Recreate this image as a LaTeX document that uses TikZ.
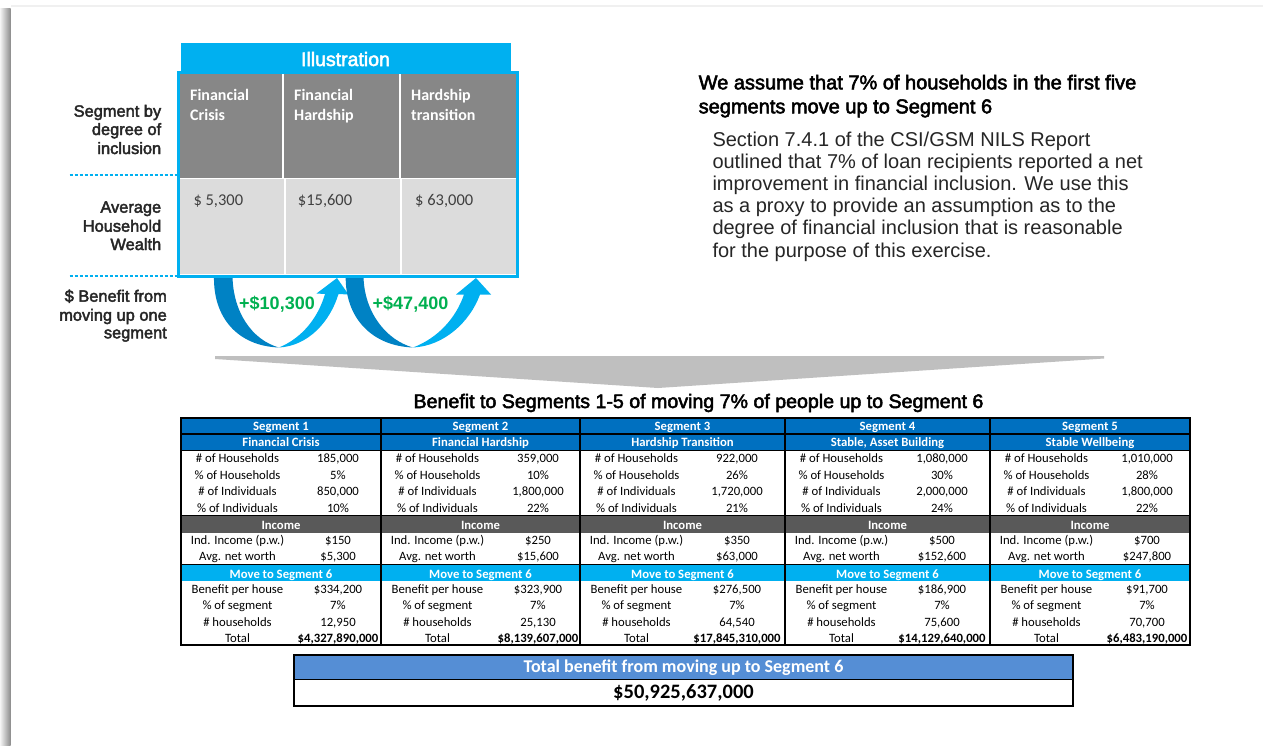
\documentclass[tikz,border=0pt]{standalone}
\usepackage{fontspec}
\setmainfont{Carlito}
\newfontfamily\ar{Liberation Sans}
\newfontfamily\arm[FakeBold=2.6]{Liberation Sans}
\newcommand\fsz[1]{\fontsize{#1}{#1}\selectfont}
\definecolor{cyanb}{HTML}{00B0F0}
\definecolor{darkb}{HTML}{0082C4}
\definecolor{segb}{HTML}{0070C0}
\definecolor{incg}{HTML}{595959}
\definecolor{illg}{HTML}{878787}
\definecolor{illl}{HTML}{DCDCDC}
\definecolor{totb}{HTML}{558ED5}
\definecolor{gain}{HTML}{00B050}
\definecolor{funnel}{HTML}{BFBFBF}
\definecolor{txt}{HTML}{262626}
\newcommand\segA[9]{%
  \fill[segb] (#1,418) rectangle (#2,450);
  \node[hdr] (#3h1) at ({(#1+#2)/2},430) {#4};
  \node[hdr] (#3h2) at ({(#1+#2)/2},446.3) {#5};
  \node[cell] (#3l1) at ({#1+56.5},462.7) {\# of Households};
  \node[cell] (#3v1) at ({#1+157},462.7) {#6};
  \node[cell] (#3l2) at ({#1+56.5},479) {\% of Households};
  \node[cell] (#3v2) at ({#1+157},479) {#7};
  \node[cell] (#3l3) at ({#1+56.5},495.5) {\# of Individuals};
  \node[cell] (#3v3) at ({#1+157},495.5) {#8};
  \node[cell] (#3l4) at ({#1+56.5},512) {\% of Individuals};
  \node[cell] (#3v4) at ({#1+157},512) {#9};
}
\newcommand\segB[9]{%
  \fill[incg] (#1,516) rectangle (#2,532.5);
  \node[hdr] (#3h3) at ({(#1+#2)/2},529) {Income};
  \node[cell] (#3l5) at ({#1+56.5},544.5) {Ind. Income (p.w.)};
  \node[cell] (#3v5) at ({#1+157},544.5) {#4};
  \node[cell] (#3l6) at ({#1+56.5},560) {Avg. net worth};
  \node[cell] (#3v6) at ({#1+157},560) {#5};
  \fill[cyanb] (#1,565) rectangle (#2,581);
  \node[hdr] (#3h4) at ({(#1+#2)/2},578) {Move to Segment 6};
  \node[cell] (#3l7) at ({#1+56.5},593.5) {Benefit per house};
  \node[cell] (#3v7) at ({#1+157},593.5) {#6};
  \node[cell] (#3l8) at ({#1+56.5},609.5) {\% of segment};
  \node[cell] (#3v8) at ({#1+157},609.5) {#7};
  \node[cell] (#3l9) at ({#1+56.5},626) {\# households};
  \node[cell] (#3v9) at ({#1+157},626) {#8};
  \node[cell] (#3l10) at ({#1+56.5},642) {Total};
  \node[cell] (#3v10) at ({#1+157},642) {\textbf{#9}};
}
\begin{document}
\begin{tikzpicture}[x=1pt,y=-1pt,
  cell/.style={font=\fsz{12.7}, text=black, anchor=base, inner sep=0pt},
  hdr/.style={font=\bfseries\fsz{12.7}, text=white, anchor=base, inner sep=0pt},
  side/.style={font=\arm\fsz{16.4}, text=txt, anchor=base east, inner sep=0pt},
  body/.style={font=\ar\fsz{20}, text=txt, anchor=base west, inner sep=0pt},
  head/.style={font=\arm\fsz{20}, text=black, anchor=base west, inner sep=0pt},
  illtop/.style={font=\bfseries\fsz{16}, text=white, anchor=base west, inner sep=0pt},
  illval/.style={font=\fsz{16.5}, text=black!75, anchor=base west, inner sep=0pt},
  gainlbl/.style={font=\ar\bfseries\fsz{18}, text=gain, anchor=base, inner sep=0pt},
  dashline/.style={draw=cyanb, dash pattern=on 3pt off 2pt, line width=1.2pt}]
\useasboundingbox (0,0) rectangle (1263,745);
\fill[white] (0,0) rectangle (1263,745);
% page shadow
\shade[left color=black!4, right color=black!45] (0,8) rectangle (10.5,745);
\fill[black!6] (10.5,4.5) rectangle (1263,6.5);

% side labels
\node[side] (s1a) at (161.4,116.7) {Segment by};
\node[side] (s1b) at (161.4,135) {degree of};
\node[side] (s1c) at (161.4,154) {inclusion};
\node[side] (s2a) at (161.4,212.7) {Average};
\node[side] (s2b) at (161.4,231.7) {Household};
\node[side] (s2c) at (161.4,250) {Wealth};
\node[side] (s3a) at (167,301.7) {\$ Benefit from};
\node[side] (s3b) at (167,320.7) {moving up one};
\node[side] (s3c) at (167,338.3) {segment};
\draw[dashline] (69.5,175) -- (177,175);
\draw[dashline] (69.5,276) -- (177,276);

% arrows
\fill[darkb] (214,276) .. controls (213,318) and (238,346) .. (279,347.5) .. controls (252,340) and (233,312) .. (232.5,276) -- cycle;
\fill[cyanb] (279,347.5) .. controls (308,346) and (330,322) .. (338.5,294) -- (348.5,294.5) -- (337,278) -- (316.5,293.5) -- (325,294) .. controls (318,318) and (302,338) .. (279,347.5) -- cycle;
\fill[darkb] (345.7,276) .. controls (345,318) and (372,346) .. (413,347.5) .. controls (386,340) and (364,312) .. (363.5,276) -- cycle;
\fill[cyanb] (413,347.5) .. controls (444,346) and (470,322) .. (480,294.5) -- (491,294.5) -- (476,278) -- (456,294.5) -- (464,294.5) .. controls (456,318) and (438,338) .. (413,347.5) -- cycle;
\node[gainlbl] (g1) at (277,309) {+\$10,300};
\node[gainlbl] (g2) at (410.5,309) {+\$47,400};

% illustration box
\fill[cyanb] (181,43.3) rectangle (511,72);
\node[font=\arm\fsz{19.5}, text=white, anchor=base, inner sep=0pt] (ill) at (345.5,66) {Illustration};
\fill[illg] (180,74) rectangle (282,177.5);
\fill[illg] (284.3,74) rectangle (399.3,177.5);
\fill[illg] (401,74) rectangle (515.7,177.5);
\fill[illl] (180,179.3) rectangle (284,274);
\fill[illl] (286,179.3) rectangle (400,274);
\fill[illl] (402,179.3) rectangle (515.7,274);
\draw[cyanb, line width=3.2pt] (178.3,72.7) rectangle (517.6,276.2);
\node[illtop] (c1a) at (190,100.7) {Financial};
\node[illtop] (c1b) at (190,120) {Crisis};
\node[illtop] (c2a) at (294,100.7) {Financial};
\node[illtop] (c2b) at (294,120) {Hardship};
\node[illtop] (c3a) at (411,100.7) {Hardship};
\node[illtop] (c3b) at (411,120) {transition};
\node[illval] (w1) at (193.3,205.7) {\$ 5,300};
\node[illval] (w2) at (297.7,205.7) {\$15,600};
\node[illval] (w3) at (415,205.7) {\$ 63,000};

% right text
\node[head] (h1) at (698.5,89.3) {We assume that 7\% of households in the first five};
\node[head] (h2) at (698.5,113.3) {segments move up to Segment 6};
\node[body] (b1) at (712.3,146) {Section 7.4.1 of the CSI/GSM NILS Report};
\node[body] (b2) at (712.3,168.2) {outlined that 7\% of loan recipients reported a net};
\node[body] (b3) at (712.3,190.4) {improvement in financial inclusion. We use this};
\node[body] (b4) at (712.3,212.6) {as a proxy to provide an assumption as to the};
\node[body] (b5) at (712.3,234.8) {degree of financial inclusion that is reasonable};
\node[body] (b6) at (712.3,257) {for the purpose of this exercise.};

% funnel and title
\fill[funnel] (215,356) -- (1104,356) -- (1104,358.5) -- (658,388) -- (215,359) -- cycle;
\node[font=\arm\fsz{19.6}, text=black, anchor=base, inner sep=0pt] (title) at (698.5,408) {Benefit to Segments 1-5 of moving 7\% of people up to Segment 6};

% table
\segA{181}{381}{sa}{Segment 1}{Financial Crisis}{185,000}{5\%}{850,000}{10\%}
\segB{181}{381}{sa}{\$150}{\$5,300}{\$334,200}{7\%}{12,950}{\$4,327,890,000}
\segA{381}{580}{sb}{Segment 2}{Financial Hardship}{359,000}{10\%}{1,800,000}{22\%}
\segB{381}{580}{sb}{\$250}{\$15,600}{\$323,900}{7\%}{25,130}{\$8,139,607,000}
\segA{580}{785}{sc}{Segment 3}{Hardship Transition}{922,000}{26\%}{1,720,000}{21\%}
\segB{580}{785}{sc}{\$350}{\$63,000}{\$276,500}{7\%}{64,540}{\$17,845,310,000}
\segA{785}{990}{sd}{Segment 4}{Stable, Asset Building}{1,080,000}{30\%}{2,000,000}{24\%}
\segB{785}{990}{sd}{\$500}{\$152,600}{\$186,900}{7\%}{75,600}{\$14,129,640,000}
\segA{990}{1190}{se}{Segment 5}{Stable Wellbeing}{1,010,000}{28\%}{1,800,000}{22\%}
\segB{990}{1190}{se}{\$700}{\$247,800}{\$91,700}{7\%}{70,700}{\$6,483,190,000}
\draw[line width=1.6pt] (181,434) -- (1190,434);
\draw[line width=1.6pt] (181,450.5) -- (1190,450.5);
\draw[line width=1.2pt] (181,515.5) -- (1190,515.5);
\draw[line width=1.6pt] (181,564.5) -- (1190,564.5);
\foreach \xx in {381,580,785,990} \draw[line width=2pt] (\xx,417.5) -- (\xx,645);
\draw[line width=2pt] (181,417.5) rectangle (1190,645);

% total box
\fill[totb] (294,654.5) rectangle (1073,679.5);
\draw[line width=1.2pt] (294,679.5) -- (1073,679.5);
\draw[line width=2pt] (294,654.5) rectangle (1073,705.5);
\node[font=\bfseries\fsz{18}, text=white, anchor=base, inner sep=0pt] (totH) at (683.5,672.5) {Total benefit from moving up to Segment 6};
\node[font=\bfseries\fsz{20.5}, text=black, anchor=base, inner sep=0pt] (totV) at (683.5,698.8) {\$50,925,637,000};
\end{tikzpicture}
\end{document}
